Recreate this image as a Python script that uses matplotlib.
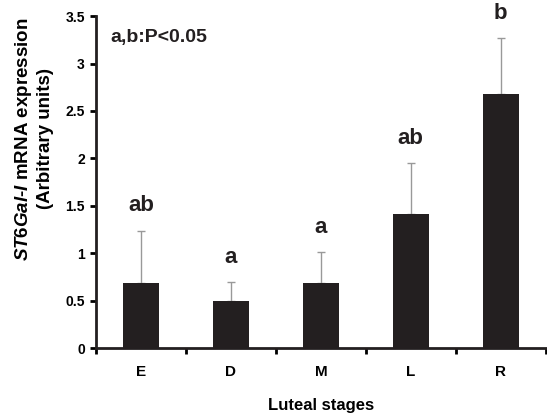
import matplotlib.pyplot as plt
from matplotlib.ticker import FixedLocator

stages = ["E", "D", "M", "L", "R"]
means = [0.69, 0.50, 0.69, 1.41, 2.68]
errors = [0.55, 0.20, 0.32, 0.54, 0.59]
letters = ["ab", "a", "a", "ab", "b"]

plt.rcParams["font.family"] = ["Liberation Sans", "DejaVu Sans"]
plt.rcParams["font.weight"] = "bold"
plt.rcParams["mathtext.fontset"] = "custom"
plt.rcParams["mathtext.it"] = "Liberation Sans:italic:bold"
plt.rcParams["mathtext.bf"] = "Liberation Sans:bold"
plt.rcParams["mathtext.rm"] = "Liberation Sans:bold"

fig = plt.figure(figsize=(5.47, 4.13), dpi=100)
ax = fig.add_axes([0.1755, 0.157, 0.822, 0.804])

x = list(range(len(stages)))
ax.bar(x, means, width=0.4, color="#231f20", zorder=2)
ax.errorbar(x, means, yerr=[[0] * len(errors), errors], fmt="none",
            ecolor="#999999", elinewidth=1, capsize=3, capthick=1, zorder=1)

for xi, m, e, lab in zip(x, means, errors, letters):
    ax.text(xi, m + e + 0.15, lab, ha="center", va="bottom",
            fontsize=16, fontweight="bold", color="#231f20")

ax.text(0.033, 0.96, "a,b:P<0.05", transform=ax.transAxes, ha="left", va="top",
        fontsize=14, fontweight="bold", color="#231f20")

ax.set_xlim(-0.5, 4.5)
ax.set_ylim(0, 3.5)
ax.set_yticks([0, 0.5, 1, 1.5, 2, 2.5, 3, 3.5])
ax.set_yticklabels(["0", "0.5", "1", "1.5", "2", "2.5", "3", "3.5"])
ax.set_xticks(x)
ax.set_xticklabels(stages)
ax.xaxis.set_minor_locator(FixedLocator([-0.5, 0.5, 1.5, 2.5, 3.5, 4.5]))
ax.tick_params(axis="x", which="major", length=0, pad=12, labelsize=11)
ax.tick_params(axis="x", which="minor", length=4, width=2, direction="out")
ax.tick_params(axis="y", length=4, width=2, direction="out", labelsize=10, pad=4)

for sp in ["top", "right"]:
    ax.spines[sp].set_visible(False)
for sp in ["left", "bottom"]:
    ax.spines[sp].set_linewidth(2)
    ax.spines[sp].set_color("#231f20")

ax.set_xlabel("Luteal stages", fontsize=12, fontweight="bold", labelpad=14)
ax.set_ylabel(r"$\it{ST6Gal}$-$\it{I}$ mRNA expression" + "\n(Arbitrary units)",
              fontsize=13.5, fontweight="bold", linespacing=1.2)
ax.yaxis.set_label_coords(-0.094, 0.63)

fig.savefig("out.png", dpi=100)
